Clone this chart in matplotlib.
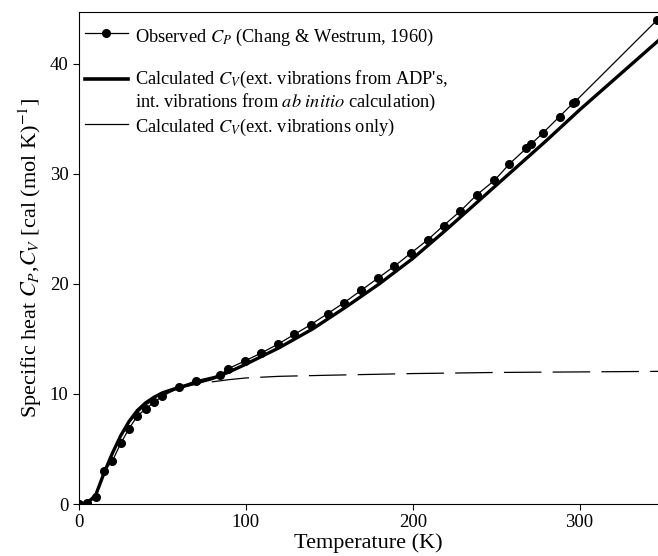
import matplotlib
matplotlib.use('Agg')
import matplotlib.pyplot as plt

plt.rcParams['font.family'] = 'Liberation Serif'
plt.rcParams['mathtext.fontset'] = 'stix'

# Observed Cp (Chang & Westrum, 1960)
obs_T = [0, 5, 10, 15, 20, 25, 30, 35, 40, 45, 50, 60, 70, 84.5, 89.5, 99.5,
         109, 119, 129, 139, 149, 159, 169, 179, 189, 199, 209, 218.5, 228.5,
         238.5, 249, 258, 268, 271, 278, 288, 296, 297, 346.7]
obs_Cp = [0.0, 0.06, 0.6, 3.0, 3.9, 5.5, 6.85, 8.0, 8.65, 9.25, 9.8, 10.6, 11.2,
          11.7, 12.3, 13.0, 13.7, 14.5, 15.4, 16.3, 17.3, 18.3, 19.4, 20.5,
          21.6, 22.8, 24.0, 25.3, 26.6, 28.1, 29.4, 30.9, 32.3, 32.7, 33.7,
          35.2, 36.4, 36.5, 44.0]

# Calculated Cv, ext. vibrations from ADP's + int. vibrations ab initio
full_T = [0, 5, 10, 15, 20, 25, 30, 35, 40, 45, 50, 60, 70, 80, 90, 100, 120,
          140, 160, 180, 200, 220, 240, 260, 280, 300, 348]
full_Cv = [0.0, 0.1, 0.8, 2.8, 4.6, 6.2, 7.5, 8.5, 9.2, 9.7, 10.1, 10.6, 11.0,
           11.4, 12.0, 12.7, 14.2, 15.9, 17.9, 20.0, 22.3, 24.9, 27.6, 30.3,
           33.0, 35.8, 42.2]

# Calculated Cv, ext. vibrations only
ext_T = [0, 5, 10, 15, 20, 25, 30, 35, 40, 50, 60, 70, 80, 90, 100, 120, 150,
         200, 250, 300, 348]
ext_Cv = [0.0, 0.1, 0.8, 2.9, 4.7, 6.2, 7.4, 8.3, 9.0, 9.9, 10.5, 10.9, 11.1,
          11.3, 11.45, 11.6, 11.7, 11.85, 11.95, 12.0, 12.05]

labels = [
    'Observed $C_P$ (Chang & Westrum, 1960)',
    "Calculated $C_V$(ext. vibrations from ADP's,",
    'int. vibrations from $\\it{ab\\ initio}$ calculation)',
    'Calculated $C_V$(ext. vibrations only)',
]

fig = plt.figure(figsize=(6.58, 5.56), dpi=100)
ax = fig.add_axes([0.120, 0.0935, 0.88, 0.885])

ax.plot(ext_T, ext_Cv, color='black', lw=0.9, dashes=(30, 9))
ax.plot(full_T, full_Cv, color='black', lw=2.4)
ax.plot(obs_T, obs_Cp, color='black', lw=0.9, marker='o', markersize=5.5)

# legend drawn by hand so the thick-line handle sits on the first text line
tr = ax.transAxes
hx = [0.0104, 0.0846]
ax.plot(hx, [0.957, 0.957], color='black', lw=0.9, transform=tr, clip_on=False)
ax.plot([0.047], [0.957], color='black', marker='o', markersize=5.5,
        transform=tr, clip_on=False)
ax.plot(hx, [0.864, 0.864], color='black', lw=2.6, transform=tr, clip_on=False)
ax.plot(hx, [0.772, 0.772], color='black', lw=0.9, transform=tr, clip_on=False)
for y, txt in zip([0.939, 0.853, 0.806, 0.756], labels):
    ax.text(0.096, y, txt, transform=tr, fontsize=13.2, va='baseline')

ax.set_xlim(0, 347)
ax.set_ylim(0, 44.7)
ax.set_xticks([0, 100, 200, 300])
ax.set_yticks([0, 10, 20, 30, 40])
ax.tick_params(labelsize=13.5, length=4, width=0.8)
ax.spines['right'].set_visible(False)
for s in ['top', 'left', 'bottom']:
    ax.spines[s].set_linewidth(0.8)

ax.set_xlabel('Temperature (K)', fontsize=16, labelpad=1)
ax.set_ylabel('Specific heat $C_P$,$C_V$ [cal (mol K)$^{-1}$]', fontsize=16,
              labelpad=4)

fig.savefig('out.png', dpi=100)
